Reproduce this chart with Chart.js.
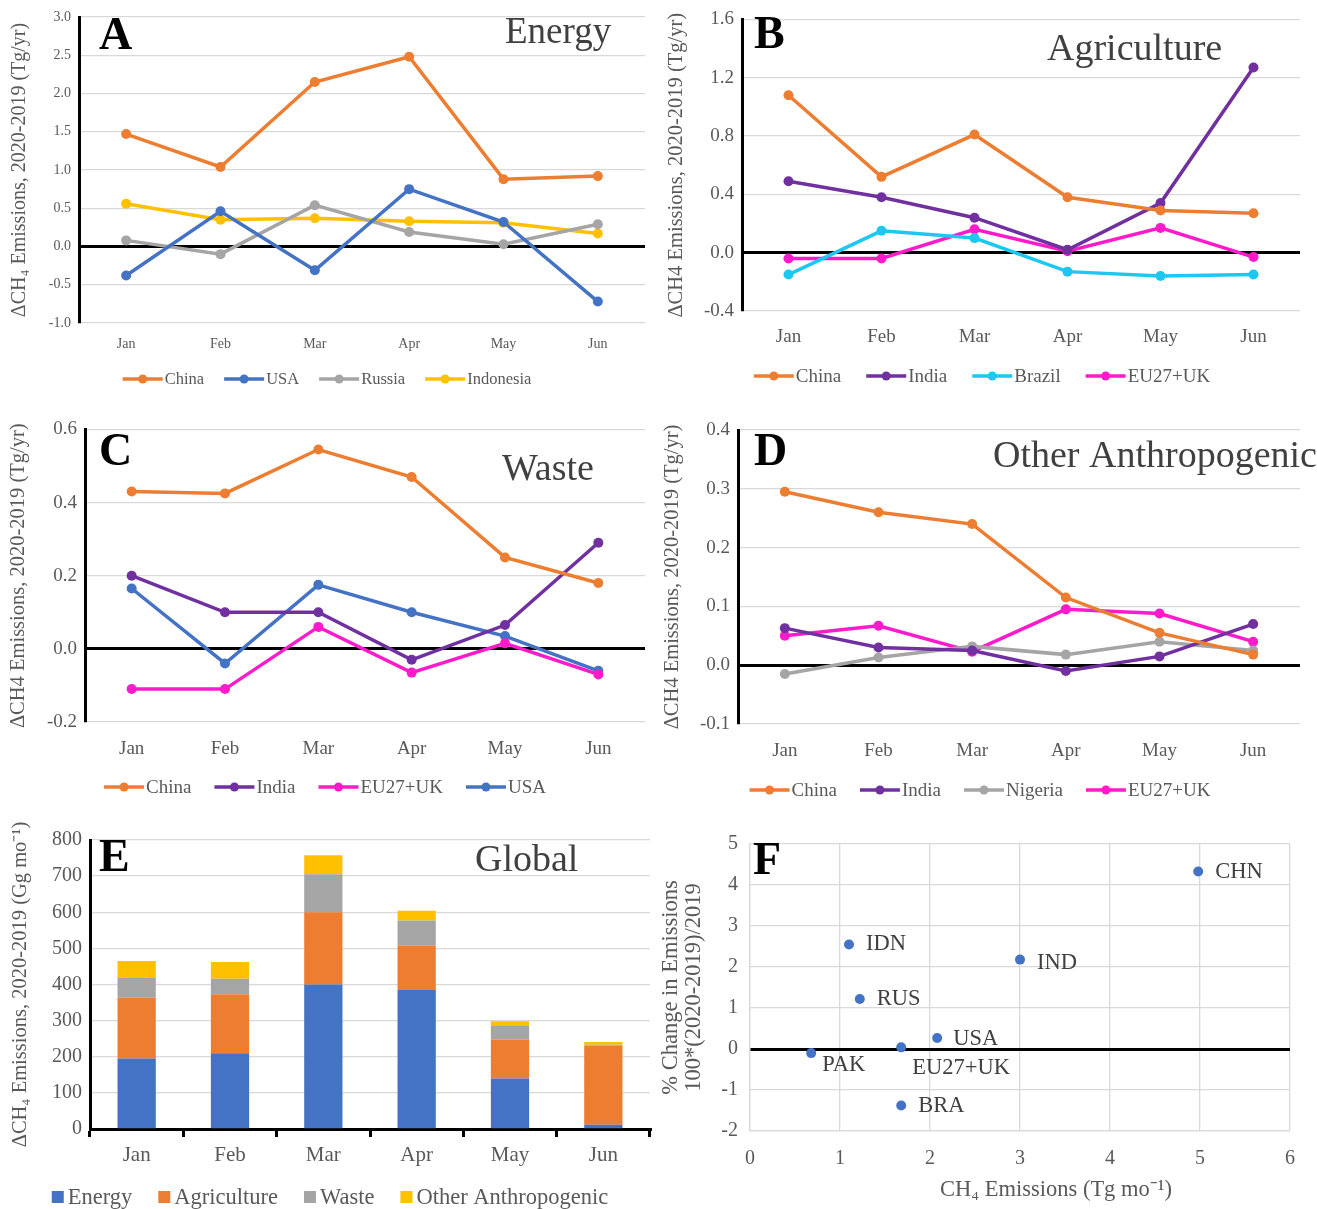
<!DOCTYPE html>
<html>
<head>
<meta charset="utf-8">
<script src="https://cdn.jsdelivr.net/npm/chart.js@4.4.1/dist/chart.umd.min.js"></script>
<style>
  body { margin: 0; background: #fff; }
  #wrap { position: relative; width: 1317px; height: 1209px; overflow: hidden; }
  canvas { position: absolute; }
</style>
</head>
<body>
<div id="wrap">
  <canvas id="chartA" style="left:0;top:0" width="655" height="405"></canvas>
  <canvas id="chartB" style="left:655px;top:0" width="662" height="405"></canvas>
  <canvas id="chartC" style="left:0;top:410px" width="655" height="400"></canvas>
  <canvas id="chartD" style="left:655px;top:410px" width="662" height="400"></canvas>
  <canvas id="chartE" style="left:0;top:820px" width="655" height="389"></canvas>
  <canvas id="chartF" style="left:655px;top:820px" width="662" height="389"></canvas>
</div>
<script>
// data
var months = ['Jan', 'Feb', 'Mar', 'Apr', 'May', 'Jun'];

// A - Energy
var energyChina = [1.47, 1.04, 2.15, 2.48, 0.88, 0.92];
var energyUSA = [-0.38, 0.46, -0.31, 0.75, 0.32, -0.72];
var energyRussia = [0.08, -0.10, 0.54, 0.19, 0.03, 0.29];
var energyIndonesia = [0.56, 0.35, 0.37, 0.33, 0.31, 0.17];

// B - Agriculture
var agriChina = [1.08, 0.52, 0.81, 0.38, 0.29, 0.27];
var agriIndia = [0.49, 0.38, 0.24, 0.02, 0.34, 1.27];
var agriBrazil = [-0.15, 0.15, 0.10, -0.13, -0.16, -0.15];
var agriEU = [-0.04, -0.04, 0.16, 0.01, 0.17, -0.03];

// C - Waste
var wasteChina = [0.43, 0.425, 0.545, 0.47, 0.25, 0.18];
var wasteIndia = [0.20, 0.10, 0.10, -0.03, 0.065, 0.29];
var wasteEU = [-0.11, -0.11, 0.06, -0.065, 0.015, -0.07];
var wasteUSA = [0.165, -0.04, 0.175, 0.10, 0.035, -0.06];

// D - Other anthropogenic
var otherChina = [0.295, 0.26, 0.24, 0.115, 0.055, 0.018];
var otherIndia = [0.063, 0.03, 0.025, -0.01, 0.015, 0.07];
var otherNigeria = [-0.015, 0.013, 0.032, 0.018, 0.04, 0.025];
var otherEU = [0.05, 0.067, 0.023, 0.095, 0.088, 0.04];

// E - Global (Gg/mo)
var globalEnergy = [195, 210, 400, 385, 140, 12];
var globalAgri = [168, 163, 200, 123, 108, 219];
var globalWaste = [55, 43, 105, 69, 37, 2];
var globalOther = [47, 46, 53, 27, 13, 8];

// F - scatter
var fCodes = ['CHN', 'IDN', 'IND', 'RUS', 'USA', 'EU27+UK', 'PAK', 'BRA'];
var fEmissions = [4.98, 1.1, 3.0, 1.22, 2.08, 1.68, 0.68, 1.68];
var fChange = [4.33, 2.55, 2.18, 1.22, 0.27, 0.04, -0.1, -1.38];

var SERIF = '"Liberation Serif", "Times New Roman", serif';
var TICK = '#595959';
var GRID = '#d9d9d9';
var C_ORANGE = '#ED7D31', C_BLUE = '#4472C4', C_GRAY = '#A5A5A5', C_YELLOW = '#FFC000';
var C_PURPLE = '#7030A0', C_CYAN = '#1CC8F2', C_MAGENTA = '#FF1ACB';

Chart.defaults.animation = false;
Chart.defaults.font.family = SERIF;

function isZero(v) { return Math.abs(v) < 1e-9; }

// draws panel letter, panel title and a custom legend
var decorPlugin = {
    id: 'decor',
    afterDraw: function (chart) {
        var o = chart.options.plugins.decor;
        if (!o) return;
        var ctx = chart.ctx;
        ctx.save();
        ctx.textBaseline = 'middle';
        ctx.fillStyle = '#000';
        ctx.font = 'bold 46px ' + SERIF;
        ctx.textAlign = 'left';
        ctx.fillText(o.letter, o.letterX, o.letterY);
        ctx.fillStyle = '#404040';
        ctx.font = o.titleSize + 'px ' + SERIF;
        ctx.fillText(o.title, o.titleX, o.titleY);

        // legend
        ctx.font = o.legendSize + 'px ' + SERIF;
        var items = chart.data.datasets.map(function (ds) {
            return { text: ds.label, color: ds.borderColor || ds.backgroundColor };
        });
        var markW = o.box ? 12 : 40;
        var gap = o.box ? 4 : 2;
        var total = 0;
        items.forEach(function (it, i) {
            it.w = markW + gap + ctx.measureText(it.text).width;
            total += it.w + (i ? o.legendGap : 0);
        });
        var x = o.legendCx - total / 2;
        var y = o.legendY;
        items.forEach(function (it) {
            if (o.box) {
                ctx.fillStyle = it.color;
                ctx.fillRect(x, y - 6, 12, 12);
            } else {
                ctx.strokeStyle = it.color;
                ctx.lineWidth = 3.5;
                ctx.beginPath();
                ctx.moveTo(x, y);
                ctx.lineTo(x + markW, y);
                ctx.stroke();
                ctx.fillStyle = it.color;
                ctx.beginPath();
                ctx.arc(x + markW / 2, y, 4.5, 0, Math.PI * 2);
                ctx.fill();
            }
            ctx.fillStyle = TICK;
            ctx.textAlign = 'left';
            ctx.fillText(it.text, x + markW + gap, y + 1);
            x += it.w + o.legendGap;
        });
        ctx.restore();
    }
};

function lineDataset(label, data, color) {
    return {
        label: label,
        data: data,
        borderColor: color,
        backgroundColor: color,
        borderWidth: 3.5,
        pointRadius: 5,
        pointBackgroundColor: color,
        pointBorderWidth: 0,
        tension: 0
    };
}

function makeLineChart(id, datasets, cfg) {
    var ctx = document.getElementById(id).getContext('2d');
    return new Chart(ctx, {
        type: 'line',
        data: { labels: months, datasets: datasets },
        plugins: [decorPlugin],
        options: {
            responsive: false,
            layout: { padding: { top: cfg.top, right: cfg.right, bottom: cfg.bottom, left: 0 } },
            scales: {
                x: {
                    offset: true,
                    grid: { display: false },
                    border: { display: false },
                    ticks: { color: TICK, font: { size: cfg.xTick }, padding: cfg.xPad },
                    afterFit: function (s) { s.height = cfg.xH; }
                },
                y: {
                    min: cfg.min,
                    max: cfg.max,
                    ticks: {
                        stepSize: cfg.step,
                        color: TICK,
                        font: { size: cfg.yTick },
                        padding: 8,
                        callback: function (v) { return v.toFixed(1); }
                    },
                    grid: {
                        drawTicks: false,
                        color: function (c) { return isZero(c.tick.value) ? '#000' : GRID; },
                        lineWidth: function (c) { return isZero(c.tick.value) ? 3 : 1.3; }
                    },
                    border: { color: '#000', width: 3 },
                    title: {
                        display: true,
                        text: cfg.yTitle,
                        color: TICK,
                        font: { size: cfg.yTitleSize },
                        padding: { top: cfg.yTitlePad, bottom: 0 }
                    },
                    afterFit: function (s) { s.width = cfg.yW; }
                }
            },
            plugins: {
                legend: { display: false },
                tooltip: { enabled: false },
                decor: cfg.decor
            }
        }
    });
}

// A - Energy
makeLineChart('chartA', [
    lineDataset('China', energyChina, C_ORANGE),
    lineDataset('USA', energyUSA, C_BLUE),
    lineDataset('Russia', energyRussia, C_GRAY),
    lineDataset('Indonesia', energyIndonesia, C_YELLOW)
], {
    top: 17, right: 10, bottom: 42, xH: 40, yW: 79,
    min: -1, max: 3, step: 0.5, xTick: 14, yTick: 14, xPad: 5,
    yTitle: 'ΔCH\u2084 Emissions, 2020-2019 (Tg/yr)', yTitleSize: 20, yTitlePad: 8,
    decor: {
        letter: 'A', letterX: 99, letterY: 37,
        title: 'Energy', titleSize: 37, titleX: 505, titleY: 33,
        legendSize: 16.5, legendCx: 327, legendY: 379, legendGap: 20
    }
});

// B - Agriculture
makeLineChart('chartB', [
    lineDataset('China', agriChina, C_ORANGE),
    lineDataset('India', agriIndia, C_PURPLE),
    lineDataset('Brazil', agriBrazil, C_CYAN),
    lineDataset('EU27+UK', agriEU, C_MAGENTA)
], {
    top: 17, right: 17, bottom: 54, xH: 40, yW: 87,
    min: -0.4, max: 1.6, step: 0.4, xTick: 19, yTick: 19, xPad: 7,
    yTitle: 'ΔCH4 Emissions, 2020-2019 (Tg/yr)', yTitleSize: 20.5, yTitlePad: 9,
    decor: {
        letter: 'B', letterX: 99, letterY: 36,
        title: 'Agriculture', titleSize: 38, titleX: 392, titleY: 50,
        legendSize: 19, legendCx: 327, legendY: 376, legendGap: 25
    }
});

// C - Waste
makeLineChart('chartC', [
    lineDataset('China', wasteChina, C_ORANGE),
    lineDataset('India', wasteIndia, C_PURPLE),
    lineDataset('EU27+UK', wasteEU, C_MAGENTA),
    lineDataset('USA', wasteUSA, C_BLUE)
], {
    top: 18, right: 10, bottom: 48, xH: 40, yW: 85,
    min: -0.2, max: 0.6, step: 0.2, xTick: 19, yTick: 19, xPad: 8,
    yTitle: 'ΔCH4 Emissions, 2020-2019 (Tg/yr)', yTitleSize: 20.5, yTitlePad: 6,
    decor: {
        letter: 'C', letterX: 99, letterY: 43,
        title: 'Waste', titleSize: 38, titleX: 502, titleY: 60,
        legendSize: 19, legendCx: 325, legendY: 377, legendGap: 23
    }
});

// D - Other anthropogenic
makeLineChart('chartD', [
    lineDataset('China', otherChina, C_ORANGE),
    lineDataset('India', otherIndia, C_PURPLE),
    lineDataset('Nigeria', otherNigeria, C_GRAY),
    lineDataset('EU27+UK', otherEU, C_MAGENTA)
], {
    top: 20, right: 17, bottom: 46, xH: 40, yW: 83,
    min: -0.1, max: 0.4, step: 0.1, xTick: 19, yTick: 19, xPad: 8,
    yTitle: 'ΔCH4 Emissions, 2020-2019 (Tg/yr)', yTitleSize: 20.5, yTitlePad: 5,
    decor: {
        letter: 'D', letterX: 99, letterY: 43,
        title: 'Other Anthropogenic', titleSize: 38, titleX: 338, titleY: 47,
        legendSize: 19, legendCx: 325, legendY: 380, legendGap: 23
    }
});

// E - Global stacked bars
function barDataset(label, data, color) {
    return {
        label: label,
        data: data,
        backgroundColor: color,
        borderColor: color,
        borderWidth: 0,
        barPercentage: 0.41,
        categoryPercentage: 1
    };
}

new Chart(document.getElementById('chartE').getContext('2d'), {
    type: 'bar',
    data: {
        labels: months,
        datasets: [
            barDataset('Energy', globalEnergy, C_BLUE),
            barDataset('Agriculture', globalAgri, C_ORANGE),
            barDataset('Waste', globalWaste, C_GRAY),
            barDataset('Other Anthropogenic', globalOther, C_YELLOW)
        ]
    },
    plugins: [decorPlugin],
    options: {
        responsive: false,
        layout: { padding: { top: 19, right: 5, bottom: 40, left: 0 } },
        scales: {
            x: {
                stacked: true,
                grid: { display: true, drawOnChartArea: false, color: '#000', lineWidth: 3, tickLength: 8 },
                border: { color: '#000', width: 3 },
                ticks: { color: TICK, font: { size: 21 }, padding: 6 },
                afterFit: function (s) { s.height = 40; }
            },
            y: {
                stacked: true,
                min: 0,
                max: 800,
                ticks: { stepSize: 100, color: TICK, font: { size: 20 }, padding: 8 },
                grid: { drawTicks: false, color: GRID, lineWidth: 1.3 },
                border: { color: '#000', width: 3 },
                title: {
                    display: true,
                    text: 'ΔCH\u2084 Emissions, 2020-2019 (Gg mo\u207B\u00B9)',
                    color: TICK,
                    font: { size: 20.5 },
                    padding: { top: 8, bottom: 0 }
                },
                afterFit: function (s) { s.width = 90; }
            }
        },
        plugins: {
            legend: { display: false },
            tooltip: { enabled: false },
            decor: {
                letter: 'E', letterX: 99, letterY: 39, box: true,
                title: 'Global', titleSize: 38, titleX: 475, titleY: 41,
                legendSize: 22.5, legendCx: 330, legendY: 1197 - 820, legendGap: 26
            }
        }
    }
});

// F - scatter with country codes
var labelOffsets = [[17, 1], [17, 0], [17, 3], [17, 0], [16, 1], [11, 21], [11, 12], [17, 1]];
var pointLabels = {
    id: 'pointLabels',
    afterDraw: function (chart) {
        var ctx = chart.ctx;
        var meta = chart.getDatasetMeta(0);
        ctx.save();
        ctx.font = '22.5px ' + SERIF;
        ctx.fillStyle = '#404040';
        ctx.textBaseline = 'middle';
        ctx.textAlign = 'left';
        meta.data.forEach(function (pt, i) {
            ctx.fillText(fCodes[i], pt.x + labelOffsets[i][0], pt.y + labelOffsets[i][1]);
        });
        // x-axis title, set right of centre as in the original
        ctx.fillStyle = TICK;
        ctx.font = '22.5px ' + SERIF;
        ctx.textAlign = 'center';
        ctx.fillText('CH\u2084 Emissions (Tg mo\u207B\u00B9)', chart.chartArea.left + 306, 370);
        ctx.fillStyle = '#000';
        ctx.textAlign = 'left';
        ctx.font = 'bold 46px ' + SERIF;
        ctx.fillText('F', 98, 42);
        ctx.restore();
    }
};

new Chart(document.getElementById('chartF').getContext('2d'), {
    type: 'scatter',
    data: {
        datasets: [{
            label: 'Countries',
            data: fEmissions.map(function (x, i) { return { x: x, y: fChange[i] }; }),
            backgroundColor: C_BLUE,
            pointRadius: 5,
            pointBorderWidth: 0
        }]
    },
    plugins: [pointLabels],
    options: {
        responsive: false,
        layout: { padding: { top: 18, right: 27, bottom: 0, left: 0 } },
        scales: {
            x: {
                min: 0,
                max: 6,
                ticks: { stepSize: 1, color: TICK, font: { size: 20 }, padding: 16 },
                grid: { drawTicks: false, color: GRID, lineWidth: 1.3 },
                border: { color: GRID, width: 1.3 },
                afterFit: function (s) { s.height = 78; }
            },
            y: {
                min: -2,
                max: 5,
                ticks: { stepSize: 1, color: TICK, font: { size: 20 }, padding: 12 },
                grid: {
                    drawTicks: false,
                    color: function (c) { return isZero(c.tick.value) ? '#000' : GRID; },
                    lineWidth: function (c) { return isZero(c.tick.value) ? 3 : 1.3; }
                },
                border: { color: GRID, width: 1.3 },
                title: {
                    display: true,
                    text: ['% Change in Emissions', '100*(2020-2019)/2019'],
                    color: TICK,
                    font: { size: 22.5, lineHeight: 1.05 },
                    padding: { top: 4, bottom: 0 }
                },
                afterFit: function (s) { s.width = 95; }
            }
        },
        plugins: {
            legend: { display: false },
            tooltip: { enabled: false }
        }
    }
});
</script>
</body>
</html>
